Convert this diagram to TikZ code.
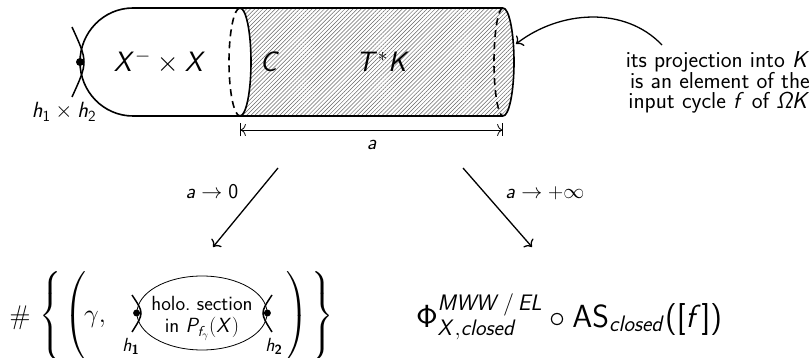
\RequirePackage{fix-cm}
\documentclass[tikz,border=0pt]{standalone}
\usepackage{exscale}
\usetikzlibrary{patterns.meta,arrows.meta,shapes.geometric}
\DeclareMathAlphabet{\mathsfit}{OT1}{cmss}{m}{sl}
\newcommand{\sfi}[1]{\mathsfit{#1}}
\newcommand{\delimstrut}{\vrule height 50pt depth 35pt width 0pt}
\begin{document}
\begin{tikzpicture}[x=1pt,y=-1pt,
  every node/.style={font=\sffamily\fontsize{21}{20.5}\selectfont, inner sep=0pt},
  anntxt/.style={font=\sffamily\fontsize{23}{20}\selectfont},
  bigtxt/.style={font=\sffamily\fontsize{28}{32}\selectfont},
  bigl/.style={font=\sffamily\fontsize{26}{30}\selectfont},
  delim/.style={font=\sffamily\fontsize{30}{34}\selectfont},
  bigr/.style={font=\sffamily\fontsize{32}{34}\selectfont},
  smalltxt/.style={font=\sffamily\fontsize{20.5}{22}\selectfont},
  hlab/.style={font=\sffamily\fontsize{19}{20}\selectfont},
  cyl/.style={line width=1.6pt},
  dashcyl/.style={line width=1.6pt, dash pattern=on 7pt off 5pt},
  crossln/.style={line width=1.5pt},
  arr/.style={line width=1.3pt, -{To[length=6pt,width=13pt]}},
  dimarr/.style={line width=0.8pt, {Bar[width=13pt]To[length=5pt,width=12pt]}-{To[length=5pt,width=12pt]Bar[width=13pt]}},
  hatch/.style={pattern={Lines[angle=45,distance=2.9pt,line width=0.5pt]}, pattern color=black!60}]
\useasboundingbox (0,0) rectangle (812,358);

% hatched part of the cylinder
\fill[hatch] (240,8) -- (503,8) arc[start angle=90,end angle=-90,x radius=11pt,y radius=54pt]
  -- (240,116) arc[start angle=-90,end angle=90,x radius=11pt,y radius=54pt] -- cycle;

% outline
\draw[cyl] (503,8) -- (133,8) arc[start angle=90,end angle=270,x radius=53pt,y radius=54pt] -- (503,116);
\draw[cyl] (503,8) arc[start angle=90,end angle=-90,x radius=11pt,y radius=54pt];
\draw[cyl] (240,8) arc[start angle=90,end angle=-90,x radius=11pt,y radius=54pt];
\draw[dashcyl] (240,8) arc[start angle=90,end angle=270,x radius=11pt,y radius=54pt];
\draw[dashcyl] (503,8) arc[start angle=90,end angle=270,x radius=9pt,y radius=54pt];

% puncture on the left cap
\draw[crossln] (72,27) .. controls (88,62) .. (72,97);
\fill (80,62) circle[radius=4pt];

\node[font=\sffamily\fontsize{22}{24}\selectfont] (hh) at (64,112) {$\sfi{h}_{\mathsf{1}}\times\sfi{h}_{\mathsf{2}}$};
\node[bigtxt] (xx) at (160,62) {$\sfi{X}^{-}\times\sfi{X}$};
\node[bigtxt] (cc) at (270,62) {$\sfi{C}$};
\node[bigtxt] (tk) at (383,62) {$\sfi{T}^{*}\sfi{K}$};

% length a
\coordinate (dl) at (240,130);
\coordinate (dr) at (503,130);
\draw[dimarr] (dl) -- (dr);
\node (alab) at (372,145) {$\sfi{a}$};

% annotation
\node[anntxt, align=right, anchor=north east] (ann) at (810,51)
  {its projection into $\sfi{K}$\\ is an element of the\\ input cycle $\sfi{f}$ of $\sfi{\Omega K}$};
\coordinate (annstart) at (662,45);
\coordinate (cylend) at (516,44);
\draw[arr] (annstart) .. controls (625,6) and (560,10) .. (cylend);

% limits
\coordinate (l1) at (278,168);
\coordinate (l2) at (213,247);
\coordinate (r1) at (463,168);
\coordinate (r2) at (532,247);
\draw[arr] (l1) -- (l2);
\draw[arr] (r1) -- (r2);
\node[anchor=base] (lim0) at (212,199) {$\sfi{a}\to\mathsf{0}$};
\node[anchor=base] (liminf) at (545,199) {$\sfi{a}\to+\infty$};

% bottom left
\node[font=\fontsize{27}{30}\selectfont, anchor=base] (hash) at (20,324) {$\#$};
\node[delim, anchor=west] (lbr) at (39,316) {$\left\{\delimstrut\right.$};
\node[delim, anchor=west] (lpar) at (64,316) {$\left(\delimstrut\right.$};
\node[bigl, anchor=base west] (gam) at (84,323) {$\gamma,$};
\node[delim, anchor=east] (rpar) at (308,316) {$\left.\delimstrut\right)$};
\node[delim, anchor=east] (rbr) at (334,316) {$\left.\delimstrut\right\}$};
\node[draw, ellipse, line width=0.8pt, minimum width=130pt, minimum height=74pt] (holo) at (202,313) {};
\node[smalltxt, anchor=base] (holo1) at (202,311) {holo.\ section};
\node[smalltxt, anchor=base] (holo2) at (202,333) {in $\sfi{P}_{\sfi{f}_{\gamma}}(\sfi{X})$};
\draw[crossln] (132,295) .. controls (144,313) .. (132,332);
\draw[crossln] (272,295) .. controls (260,313) .. (272,332);
\fill (holo.west) circle[radius=3.5pt];
\fill (holo.east) circle[radius=3.5pt];
\node[hlab] (h1) at (131,346) {\itshape h\textsubscript{\bfseries\upshape 1}};
\node[hlab] (h2) at (274,346) {\itshape h\textsubscript{\bfseries\upshape 2}};

% bottom right
\node[bigr, anchor=base] (res) at (569,327)
  {$\mathsf{\Phi}^{\sfi{MWW\,/\,EL}}_{\sfi{X},\sfi{closed}}\circ\mathsf{AS}_{\sfi{closed}}\mbox{([}\sfi{f}\mbox{])}$};
\end{tikzpicture}
\end{document}
